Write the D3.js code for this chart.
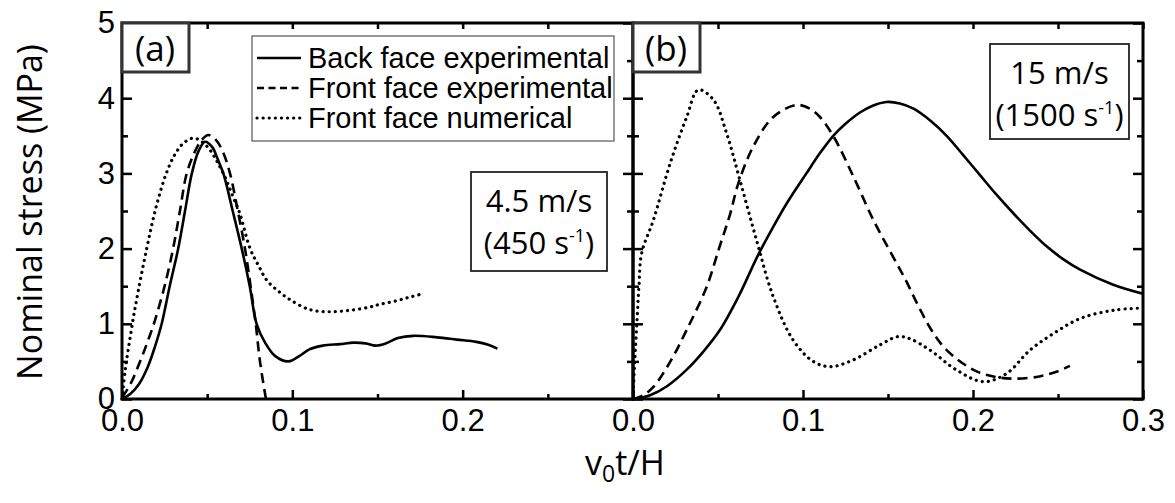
<!DOCTYPE html>
<html>
<head>
<meta charset="utf-8">
<script src="https://cdn.jsdelivr.net/npm/d3@7"></script>
<style>
  body { margin: 0; background: #fff; }
  svg { display: block; }
  .tick line { stroke: #000; stroke-width: 2.5; }
  .lab { font-family: "Open Sans", sans-serif; fill: #000; }
  .leg { font-family: "Liberation Sans", Arial, sans-serif; font-size: 29px; fill: #000; }
</style>
</head>
<body>
<svg width="1175" height="503"></svg>
<script>
// panel (a): 4.5 m/s
var backA = [[0,0],[0.005,0.07],[0.01,0.2],[0.015,0.42],[0.0194,0.7],[0.0233,1.0],[0.028,1.5],[0.033,2.0],[0.037,2.5],[0.041,3.0],[0.045,3.3],[0.0487,3.42],[0.053,3.35],[0.056,3.2],[0.0595,3.0],[0.065,2.5],[0.0703,2.0],[0.075,1.5],[0.079,1.0],[0.084,0.75],[0.09,0.57],[0.0977,0.5],[0.104,0.57],[0.11,0.66],[0.118,0.71],[0.128,0.73],[0.136,0.75],[0.143,0.74],[0.149,0.71],[0.155,0.74],[0.162,0.81],[0.171,0.84],[0.185,0.82],[0.1965,0.79],[0.208,0.76],[0.215,0.72],[0.2204,0.67]];
var frontA = [[0,0.02],[0.005,0.2],[0.0106,0.5],[0.015,0.76],[0.0194,1.05],[0.025,1.5],[0.030,2.0],[0.034,2.5],[0.038,3.0],[0.043,3.3],[0.047,3.45],[0.0507,3.51],[0.055,3.45],[0.059,3.3],[0.0634,3.0],[0.068,2.5],[0.0722,2.0],[0.0755,1.5],[0.0785,1.0],[0.081,0.5],[0.0845,0]];
var numA = [[0,0],[0.002,0.4],[0.005,0.85],[0.008,1.25],[0.0145,2.0],[0.02,2.55],[0.026,3.0],[0.031,3.25],[0.036,3.4],[0.0419,3.47],[0.047,3.42],[0.052,3.3],[0.056,3.15],[0.0605,2.95],[0.065,2.7],[0.069,2.48],[0.0752,2.0],[0.08,1.78],[0.085,1.58],[0.092,1.43],[0.0987,1.32],[0.11,1.19],[0.122,1.16],[0.134,1.18],[0.145,1.22],[0.1515,1.26],[0.16,1.3],[0.168,1.35],[0.175,1.39]];

// panel (b): 15 m/s
var backB = [[0,0],[0.01,0.05],[0.02,0.17],[0.0316,0.39],[0.041,0.62],[0.0512,0.92],[0.062,1.36],[0.0737,1.92],[0.082,2.27],[0.0904,2.6],[0.102,3.0],[0.11,3.27],[0.1178,3.5],[0.125,3.66],[0.1335,3.81],[0.141,3.9],[0.149,3.95],[0.157,3.93],[0.165,3.86],[0.175,3.7],[0.1845,3.5],[0.194,3.25],[0.204,2.98],[0.2137,2.72],[0.2237,2.47],[0.2335,2.24],[0.2433,2.03],[0.253,1.86],[0.263,1.72],[0.2825,1.52],[0.3,1.4]];
var frontB = [[0,0],[0.006,0.05],[0.012,0.16],[0.022,0.5],[0.0316,0.92],[0.0433,1.49],[0.051,2.03],[0.057,2.45],[0.062,2.87],[0.0708,3.36],[0.0825,3.75],[0.0963,3.91],[0.104,3.86],[0.11,3.75],[0.118,3.49],[0.1296,2.96],[0.1414,2.38],[0.153,1.89],[0.16,1.6],[0.168,1.23],[0.176,0.9],[0.1845,0.65],[0.2,0.39],[0.212,0.3],[0.224,0.27],[0.239,0.3],[0.25,0.37],[0.257,0.44]];
var numB = [[0,0],[0.001,0.5],[0.0025,1.1],[0.0035,1.5],[0.0051,1.94],[0.012,2.38],[0.0218,3.13],[0.0316,3.75],[0.0384,4.11],[0.0473,3.98],[0.0551,3.53],[0.0629,2.91],[0.0727,2.11],[0.0825,1.36],[0.0943,0.78],[0.106,0.5],[0.1159,0.43],[0.1296,0.52],[0.1453,0.72],[0.156,0.83],[0.163,0.8],[0.1747,0.65],[0.19,0.39],[0.206,0.23],[0.2198,0.34],[0.2335,0.65],[0.2473,0.87],[0.263,1.07],[0.2825,1.18],[0.3,1.21]];

var xMajor = [0, 0.1, 0.2, 0.3];
var xMinor = [0.05, 0.15, 0.25];
var yMajor = [0, 1, 2, 3, 4, 5];
var yMinor = [0.5, 1.5, 2.5, 3.5, 4.5];
var legendNames = ["Back face experimental", "Front face experimental", "Front face numerical"];

var styles = [
  { dash: null, width: 2.6 },
  { dash: "10,6", width: 2.6 },
  { dash: "0.1,6", width: 3.2, cap: "round" }
];

window.addEventListener("load", main);

function main() {
  var svg = d3.select("svg");
  var yTop = 23, yBot = 399;
  var y = d3.scaleLinear().domain([0, 5]).range([yBot, yTop]);

  var panels = [
    { x: d3.scaleLinear().domain([0, 0.3]).range([122, 633]), series: [backA, frontA, numA], labels: [0, 0.1, 0.2], yLabels: true },
    { x: d3.scaleLinear().domain([0, 0.3]).range([633, 1143]), series: [backB, frontB, numB], labels: [0, 0.1, 0.2, 0.3], yLabels: false }
  ];

  panels.forEach(function(p) {
    var x = p.x;
    var x0 = x.range()[0], x1 = x.range()[1];

    // curves
    var line = d3.line()
      .x(function(d) { return x(d[0]); })
      .y(function(d) { return y(d[1]); })
      .curve(d3.curveCatmullRom.alpha(0.5));

    p.series.forEach(function(s, i) {
      svg.append("path")
        .datum(s)
        .attr("d", line)
        .attr("fill", "none")
        .attr("stroke", "#000")
        .attr("stroke-width", styles[i].width)
        .attr("stroke-dasharray", styles[i].dash)
        .attr("stroke-linecap", styles[i].cap || "butt")
        .attr("stroke-linejoin", "round");
    });

    // bottom axis (ticks inward)
    var bAx = svg.append("g").attr("transform", "translate(0," + yBot + ")")
      .call(d3.axisBottom(x).tickValues(xMajor).tickSizeInner(-9).tickSizeOuter(0)
        .tickFormat(function(d) { return p.labels.indexOf(d) >= 0 ? d3.format(".1f")(d) : ""; }));
    bAx.select(".domain").remove();
    bAx.selectAll(".tick text").attr("dy", null).attr("y", 32);
    var bMin = svg.append("g").attr("transform", "translate(0," + yBot + ")")
      .call(d3.axisBottom(x).tickValues(xMinor).tickSize(-5).tickFormat(""));
    bMin.select(".domain").remove();

    // top axis
    var tAx = svg.append("g").attr("transform", "translate(0," + yTop + ")")
      .call(d3.axisTop(x).tickValues(xMajor.concat(xMinor)).tickSize(-6).tickFormat(""));
    tAx.select(".domain").remove();

    // left axis
    var lAx = svg.append("g").attr("transform", "translate(" + x0 + ",0)")
      .call(d3.axisLeft(y).tickValues(yMajor).tickSizeInner(-10).tickSizeOuter(0)
        .tickFormat(p.yLabels ? d3.format("d") : ""));
    lAx.select(".domain").remove();
    lAx.selectAll(".tick text").attr("x", -7);
    var lMin = svg.append("g").attr("transform", "translate(" + x0 + ",0)")
      .call(d3.axisLeft(y).tickValues(yMinor).tickSize(-6).tickFormat(""));
    lMin.select(".domain").remove();

    // right axis
    var rAx = svg.append("g").attr("transform", "translate(" + x1 + ",0)")
      .call(d3.axisRight(y).tickValues(yMajor).tickSize(-10).tickFormat(""));
    rAx.select(".domain").remove();
    var rMin = svg.append("g").attr("transform", "translate(" + x1 + ",0)")
      .call(d3.axisRight(y).tickValues(yMinor).tickSize(-6).tickFormat(""));
    rMin.select(".domain").remove();

    svg.selectAll(".tick text")
      .attr("font-family", "'Liberation Sans', Arial, sans-serif")
      .attr("font-size", 31)
      .attr("fill", "#000");

    // frame
    svg.append("rect")
      .attr("x", x0).attr("y", yTop)
      .attr("width", x1 - x0).attr("height", yBot - yTop)
      .attr("fill", "none").attr("stroke", "#000").attr("stroke-width", 3);
  });

  // panel letters
  [["(a)", panels[0].x], ["(b)", panels[1].x]].forEach(function(t) {
    var x0 = t[1].range()[0];
    svg.append("rect").attr("x", x0).attr("y", yTop).attr("width", 67).attr("height", 49)
      .attr("fill", "#fff").attr("stroke", "#333").attr("stroke-width", 3);
    svg.append("text").attr("class", "lab").attr("x", x0 + 33).attr("y", yTop + 38)
      .attr("text-anchor", "middle").attr("font-size", 35).text(t[0]);
  });

  // legend
  var leg = svg.append("g").attr("transform", "translate(252,36)");
  leg.append("rect").attr("width", 362).attr("height", 105)
    .attr("fill", "#fff").attr("stroke", "#555").attr("stroke-width", 1.2);
  legendNames.forEach(function(name, i) {
    var yy = 32 + i * 30;
    leg.append("line").attr("x1", 5).attr("x2", 49).attr("y1", yy - 10).attr("y2", yy - 10)
      .attr("stroke", "#000").attr("stroke-width", styles[i].width)
      .attr("stroke-dasharray", i == 1 ? "7,4.5" : styles[i].dash)
      .attr("stroke-linecap", styles[i].cap || "butt");
    leg.append("text").attr("class", "leg").attr("x", 56).attr("y", yy).text(name);
  });

  // speed boxes
  function speedBox(x0, y0, w, h, speed, rate) {
    var g = svg.append("g").attr("transform", "translate(" + x0 + "," + y0 + ")");
    g.append("rect").attr("width", w).attr("height", h)
      .attr("fill", "#fff").attr("stroke", "#222").attr("stroke-width", 1.8);
    g.append("text").attr("class", "lab").attr("x", w / 2).attr("y", 40)
      .attr("text-anchor", "middle").attr("font-size", 31).text(speed);
    var t = g.append("text").attr("class", "lab").attr("x", w / 2).attr("y", 82)
      .attr("text-anchor", "middle").attr("font-size", 31);
    t.append("tspan").text("(" + rate + " s");
    t.append("tspan").attr("dy", -12).attr("font-size", 18).text("-1");
    t.append("tspan").attr("dy", 12).text(")");
  }
  speedBox(471, 172, 136, 99, "4.5 m/s", "450");
  speedBox(990, 44, 139, 95, "15 m/s", "1500");

  // axis titles
  svg.append("text").attr("class", "lab")
    .attr("transform", "translate(42,212) rotate(-90)")
    .attr("text-anchor", "middle").attr("font-size", 34)
    .text("Nominal stress (MPa)");

  var xt = svg.append("text").attr("class", "lab")
    .attr("x", 625).attr("y", 475).attr("text-anchor", "middle").attr("font-size", 34);
  xt.append("tspan").text("v");
  xt.append("tspan").attr("dy", 7).attr("font-size", 23).text("0");
  xt.append("tspan").attr("dy", -7).text("t/H");
}
</script>
</body>
</html>
